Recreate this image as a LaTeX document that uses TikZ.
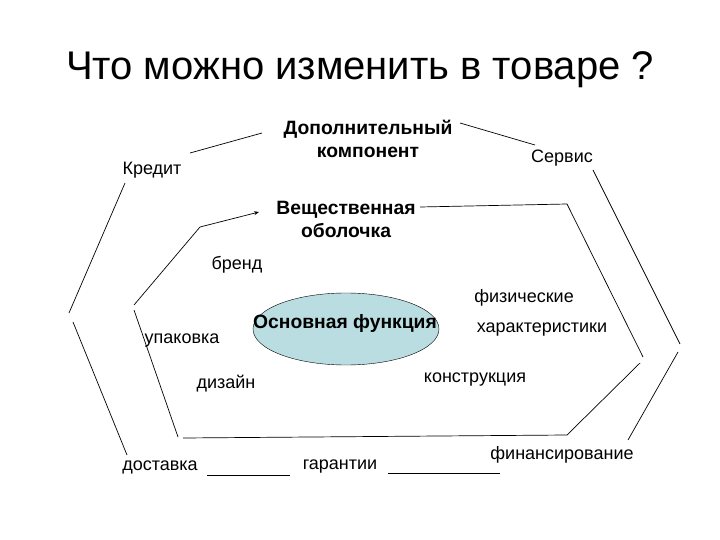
\documentclass[tikz,border=0pt]{standalone}
\usepackage{fontspec}
\setmainfont{Liberation Sans}
\usepackage{xcolor}
\usetikzlibrary{arrows.meta,shapes.geometric}
\definecolor{cCore}{HTML}{B9DDE1}
\definecolor{cInk}{HTML}{000000}
\tikzset{
  >=Stealth,
  lbl/.style  ={inner sep=0pt,align=center,text=cInk,font=\fontsize{18}{23}\selectfont},
  blbl/.style ={lbl,font=\fontsize{19.3}{23}\selectfont\bfseries},
  core/.style ={ellipse,draw=cInk,fill=cCore,minimum width=186pt,minimum height=72pt,inner sep=0pt},
  edge/.style ={line width=0.7pt,cInk},
}
\begin{document}
\begin{tikzpicture}[x=1pt,y=-1pt]
\useasboundingbox (0,0) rectangle (720,540);
\node[inner sep=0pt,font=\fontsize{40}{44}\selectfont] (title) at (360,70) {Что можно изменить в товаре ?};

% core
\node[core] (core) at (346,329) {};
\node[blbl] (osn) at (345,324) {Основная функция};

% labels
\node[blbl] (dop) at (368,139) {Дополнительный\\компонент};
\node[blbl] (vesh) at (346,219) {Вещественная\\оболочка};
\node[lbl] (kred) at (152,170) {Кредит};
\node[lbl] (serv) at (562,158) {Сервис};
\node[lbl] (brend) at (237,265) {бренд};
\node[lbl] (fiz) at (524,298) {физические};
\node[lbl] (har) at (542,330) {характеристики};
\node[lbl] (upak) at (182,341) {упаковка};
\node[lbl] (diz) at (226,384) {дизайн};
\node[lbl] (konst) at (475,380) {конструкция};
\node[lbl] (dost) at (160,467) {доставка};
\node[lbl] (gar) at (340,467) {гарантии};
\node[lbl] (fin) at (562,455) {финансирование};

% outer ring
\coordinate (o1) at (190,153);
\coordinate (o2) at (262,133);
\coordinate (o3) at (460,123);
\coordinate (o4) at (535,145);
\coordinate (o5) at (593,170);
\coordinate (o6) at (680,344);
\coordinate (o7) at (678,352);
\coordinate (o8) at (628,440);
\coordinate (o9) at (125,183);
\coordinate (o10) at (69,313);
\coordinate (o11) at (73,322);
\coordinate (o12) at (127,455);
\coordinate (o13) at (207,475);
\coordinate (o14) at (290,475);
\coordinate (o15) at (388,473);
\coordinate (o16) at (500,473);

% inner ring
\coordinate (i1) at (200,227);
\coordinate (i2) at (259,212);
\coordinate (i3) at (420,207);
\coordinate (i4) at (567,204);
\coordinate (i5) at (643,357);
\coordinate (i6) at (640,363);
\coordinate (i7) at (567,435);
\coordinate (i8) at (183,438);
\coordinate (i9) at (178,437);
\coordinate (i10) at (134,310);
\coordinate (i11) at (134,305);

\draw[edge] (o1)--(o2);
\draw[edge] (o3)--(o4);
\draw[edge] (o5)--(o6);
\draw[edge] (o7)--(o8);
\draw[edge] (o9)--(o10);
\draw[edge] (o11)--(o12);
\draw[edge] (o13)--(o14);
\draw[edge] (o15)--(o16);

\draw[edge,-{Stealth[length=5pt,width=4pt]}] (i1)--(i2);
\draw[edge] (i3)--(i4)--(i5);
\draw[edge] (i6)--(i7)--(i8);
\draw[edge] (i9)--(i10);
\draw[edge] (i11)--(i1);
\end{tikzpicture}
\end{document}
